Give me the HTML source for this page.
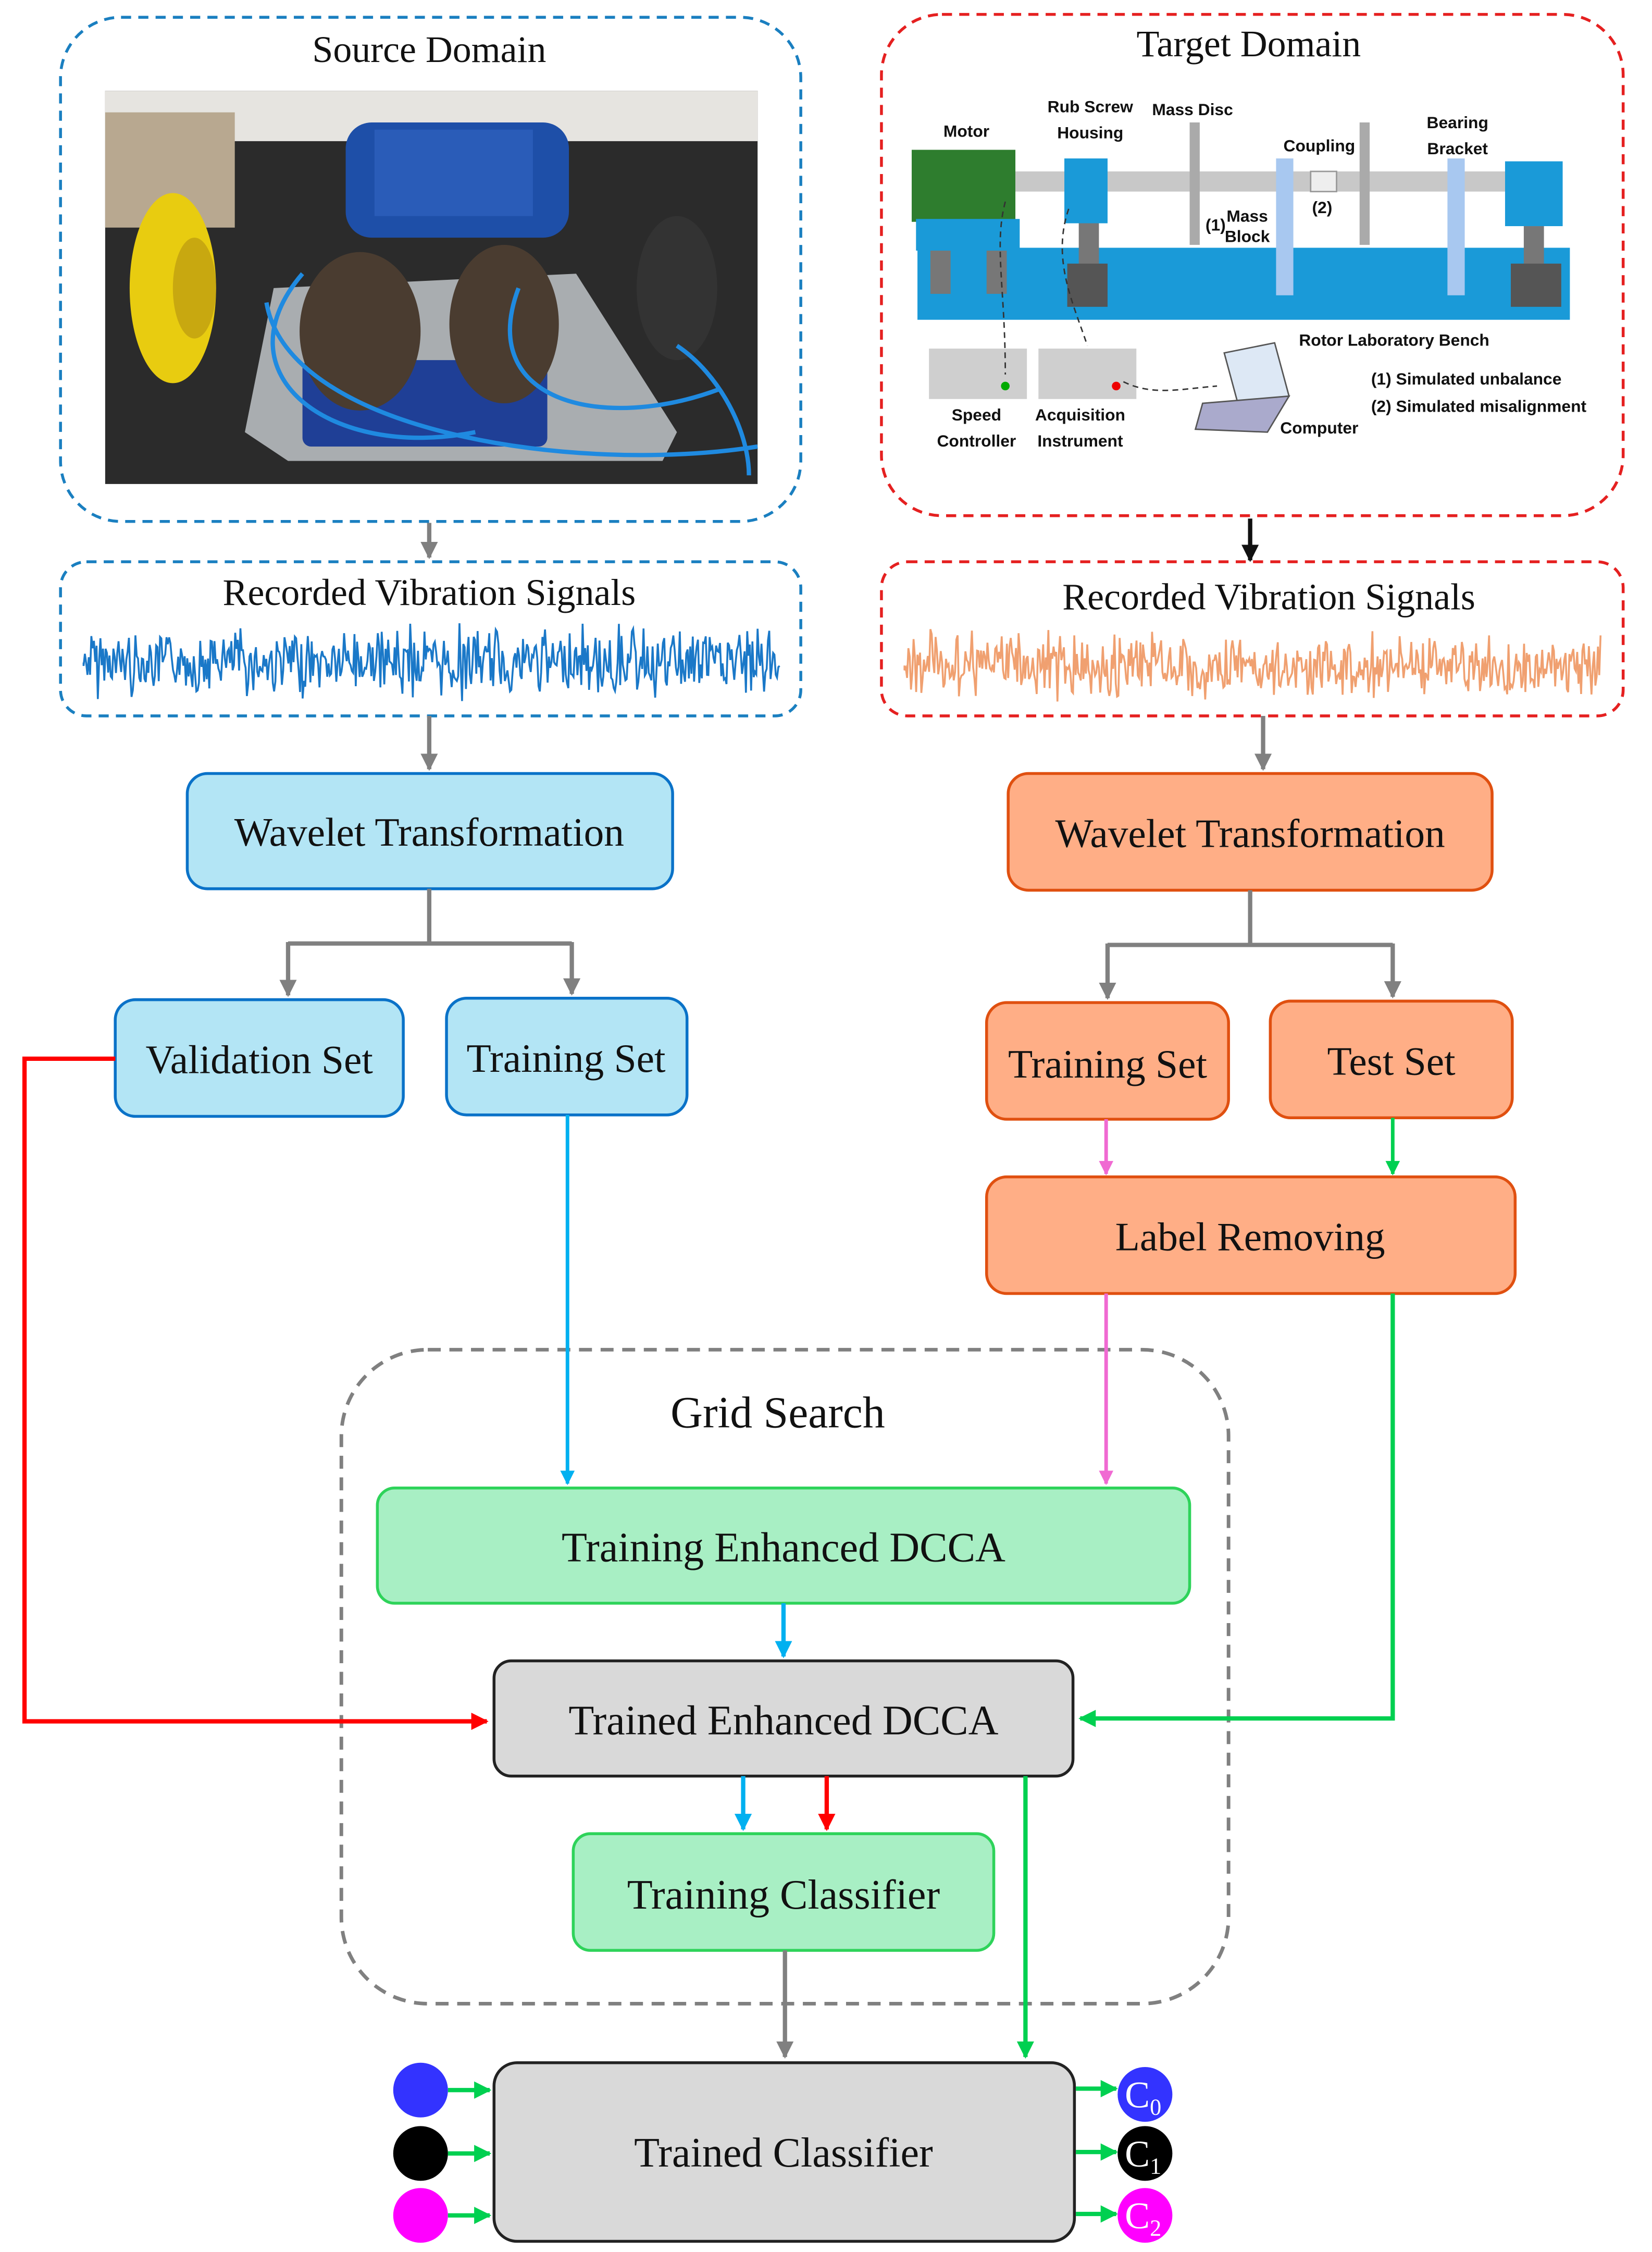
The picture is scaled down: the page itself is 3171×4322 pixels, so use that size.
<!DOCTYPE html>
<html><head><meta charset="utf-8">
<style>
html,body{margin:0;padding:0;background:#fff;}
svg{display:block;}
text{font-family:"Liberation Serif",serif;fill:#111;}
.s{font-family:"Liberation Sans",sans-serif;font-weight:bold;font-size:11.5px;fill:#111;}
</style></head>
<body>
<svg width="3171" height="4322" viewBox="0 0 1147 1563.4" xmlns="http://www.w3.org/2000/svg">
<defs>
<marker id="ag" viewBox="0 0 10 10" refX="9" refY="5" markerWidth="4" markerHeight="5.5" orient="auto" markerUnits="strokeWidth"><path d="M0,0 L10,5 L0,10 z" fill="#808080"/></marker>
<marker id="ak" viewBox="0 0 10 10" refX="9" refY="5" markerWidth="4" markerHeight="5.5" orient="auto" markerUnits="strokeWidth"><path d="M0,0 L10,5 L0,10 z" fill="#111"/></marker>
<marker id="ab" viewBox="0 0 10 10" refX="9" refY="5" markerWidth="4" markerHeight="5.5" orient="auto" markerUnits="strokeWidth"><path d="M0,0 L10,5 L0,10 z" fill="#00b0f0"/></marker>
<marker id="ar" viewBox="0 0 10 10" refX="9" refY="5" markerWidth="4" markerHeight="5.5" orient="auto" markerUnits="strokeWidth"><path d="M0,0 L10,5 L0,10 z" fill="#ff0000"/></marker>
<marker id="ap" viewBox="0 0 10 10" refX="9" refY="5" markerWidth="4" markerHeight="5.5" orient="auto" markerUnits="strokeWidth"><path d="M0,0 L10,5 L0,10 z" fill="#f06ad2"/></marker>
<marker id="agr" viewBox="0 0 10 10" refX="9" refY="5" markerWidth="4" markerHeight="5.5" orient="auto" markerUnits="strokeWidth"><path d="M0,0 L10,5 L0,10 z" fill="#00d050"/></marker>
</defs>

<rect x="42" y="12" width="514" height="350" rx="42" fill="none" stroke="#1a7fc0" stroke-width="2" stroke-dasharray="7,5"/>
<text x="298" y="43" font-size="26" text-anchor="middle">Source Domain</text>
<rect x="73" y="63" width="453" height="273" fill="#2b2b2b"/>
<rect x="73" y="63" width="453" height="35" fill="#e6e4e0"/>
<rect x="73" y="78" width="90" height="80" fill="#b8a890"/>
<polygon points="170,300 190,200 400,190 470,300 460,320 200,320" fill="#a9adb0"/>
<rect x="240" y="85" width="155" height="80" rx="18" fill="#1e4fa8"/>
<rect x="260" y="90" width="110" height="60" fill="#2a5cb8"/>
<rect x="210" y="250" width="170" height="60" rx="6" fill="#1f3f96"/>
<ellipse cx="250" cy="230" rx="42" ry="55" fill="#4a3c30"/>
<ellipse cx="350" cy="225" rx="38" ry="55" fill="#4a3c30"/>
<ellipse cx="120" cy="200" rx="30" ry="66" fill="#e8cc10"/>
<ellipse cx="135" cy="200" rx="15" ry="35" fill="#c8a810"/>
<ellipse cx="470" cy="200" rx="28" ry="50" fill="#333"/>
<path d="M210,190 C150,260 230,320 330,300 M360,200 C330,280 420,300 500,270 M185,210 C200,300 400,330 526,310 M470,240 C500,260 520,300 520,330" fill="none" stroke="#1f8ae0" stroke-width="3"/>

<rect x="612" y="10" width="515" height="348" rx="42" fill="none" stroke="#e52020" stroke-width="2" stroke-dasharray="7,5"/>
<text x="867" y="39" font-size="26" text-anchor="middle">Target Domain</text>
<rect x="637" y="172" width="453" height="50" fill="#1a9ad8"/>
<rect x="633" y="104" width="72" height="50" fill="#2e7d2e"/>
<rect x="636" y="152" width="72" height="22" fill="#1a9ad8"/>
<rect x="646" y="174" width="14" height="30" fill="#777"/><rect x="685" y="174" width="14" height="30" fill="#777"/>
<rect x="705" y="119" width="340" height="14" fill="#c8c8c8"/>
<rect x="739" y="110" width="30" height="45" fill="#1a9ad8"/>
<rect x="749" y="155" width="14" height="50" fill="#777"/><rect x="741" y="183" width="28" height="30" fill="#555"/>
<rect x="826" y="85" width="7" height="85" fill="#aaa"/>
<rect x="886" y="110" width="12" height="95" fill="#a8c8f0"/>
<rect x="910" y="119" width="18" height="14" fill="#eee" stroke="#999"/>
<rect x="944" y="85" width="7" height="85" fill="#aaa"/>
<rect x="1005" y="110" width="12" height="95" fill="#a8c8f0"/>
<rect x="1045" y="112" width="40" height="45" fill="#1a9ad8"/>
<rect x="1058" y="157" width="14" height="45" fill="#777"/><rect x="1049" y="183" width="35" height="30" fill="#555"/>
<rect x="645" y="242" width="68" height="35" fill="#cfcfcf"/><rect x="721" y="242" width="68" height="35" fill="#cfcfcf"/>
<circle cx="698" cy="268" r="3" fill="#0a0"/><circle cx="775" cy="268" r="3" fill="#e00"/>
<polygon points="850,245 885,238 895,275 860,282" fill="#dde8f5" stroke="#555"/>
<polygon points="835,280 895,275 880,300 830,298" fill="#aac" stroke="#555"/>
<path d="M698,140 C690,170 698,200 698,260 M742,145 C730,180 745,210 755,240 M780,265 C800,275 820,270 845,268" fill="none" stroke="#333" stroke-dasharray="4,3"/>
<text class="s" x="671" y="95" text-anchor="middle">Motor</text>
<text class="s" x="757" y="78" text-anchor="middle">Rub Screw</text>
<text class="s" x="757" y="96" text-anchor="middle">Housing</text>
<text class="s" x="828" y="80" text-anchor="middle">Mass Disc</text>
<text class="s" x="916" y="105" text-anchor="middle">Coupling</text>
<text class="s" x="1012" y="89" text-anchor="middle">Bearing</text>
<text class="s" x="1012" y="107" text-anchor="middle">Bracket</text>
<text class="s" x="866" y="154" font-size="9" text-anchor="middle">Mass</text>
<text class="s" x="866" y="168" font-size="9" text-anchor="middle">Block</text>
<text class="s" x="844" y="160" font-size="9" text-anchor="middle">(1)</text>
<text class="s" x="918" y="148" font-size="9" text-anchor="middle">(2)</text>
<text class="s" x="968" y="240" text-anchor="middle">Rotor Laboratory Bench</text>
<text class="s" x="952" y="267">(1)  Simulated unbalance</text>
<text class="s" x="952" y="286">(2)  Simulated misalignment</text>
<text class="s" x="678" y="292" text-anchor="middle">Speed</text>
<text class="s" x="678" y="310" text-anchor="middle">Controller</text>
<text class="s" x="750" y="292" text-anchor="middle">Acquisition</text>
<text class="s" x="750" y="310" text-anchor="middle">Instrument</text>
<text class="s" x="916" y="301" text-anchor="middle">Computer</text>

<line x1="298" y1="363" x2="298" y2="387" stroke="#808080" stroke-width="3" marker-end="url(#ag)"/>
<line x1="868" y1="360" x2="868" y2="389" stroke="#111" stroke-width="3" marker-end="url(#ak)"/>

<rect x="42" y="390" width="514" height="107" rx="18" fill="none" stroke="#1a7fc0" stroke-width="2" stroke-dasharray="7,5"/>
<text x="298" y="420" font-size="26" text-anchor="middle">Recorded Vibration Signals</text>
<rect x="612" y="390" width="515" height="107" rx="18" fill="none" stroke="#e52020" stroke-width="2" stroke-dasharray="7,5"/>
<text x="881" y="423" font-size="26" text-anchor="middle">Recorded Vibration Signals</text>
<path id="w1" fill="none" stroke="#1a78c8" stroke-width="1.3"/>
<path id="w2" fill="none" stroke="#f0a070" stroke-width="1.3"/>

<line x1="298" y1="497" x2="298" y2="534" stroke="#808080" stroke-width="3" marker-end="url(#ag)"/>
<line x1="877" y1="497" x2="877" y2="534" stroke="#808080" stroke-width="3" marker-end="url(#ag)"/>

<rect x="130" y="537" width="337" height="80" rx="14" fill="#b3e5f5" stroke="#0a72c8" stroke-width="2"/>
<text x="298" y="587" font-size="28" text-anchor="middle">Wavelet Transformation</text>
<rect x="700" y="537" width="336" height="81" rx="14" fill="#ffae86" stroke="#e05010" stroke-width="2"/>
<text x="868" y="588" font-size="28" text-anchor="middle">Wavelet Transformation</text>

<path d="M298,617 V655 M200,655 H397" stroke="#808080" stroke-width="3" fill="none"/>
<line x1="200" y1="654" x2="200" y2="691" stroke="#808080" stroke-width="3" marker-end="url(#ag)"/>
<line x1="397" y1="654" x2="397" y2="690" stroke="#808080" stroke-width="3" marker-end="url(#ag)"/>
<path d="M868,618 V656 M769,656 H967" stroke="#808080" stroke-width="3" fill="none"/>
<line x1="769" y1="655" x2="769" y2="693" stroke="#808080" stroke-width="3" marker-end="url(#ag)"/>
<line x1="967" y1="655" x2="967" y2="692" stroke="#808080" stroke-width="3" marker-end="url(#ag)"/>

<rect x="80" y="694" width="200" height="81" rx="14" fill="#b3e5f5" stroke="#0a72c8" stroke-width="2"/>
<text x="180" y="745" font-size="28" text-anchor="middle">Validation Set</text>
<rect x="310" y="693" width="167" height="81" rx="14" fill="#b3e5f5" stroke="#0a72c8" stroke-width="2"/>
<text x="393" y="744" font-size="28" text-anchor="middle">Training Set</text>
<rect x="685" y="696" width="168" height="81" rx="14" fill="#ffae86" stroke="#e05010" stroke-width="2"/>
<text x="769" y="748" font-size="28" text-anchor="middle">Training Set</text>
<rect x="882" y="695" width="168" height="81" rx="14" fill="#ffae86" stroke="#e05010" stroke-width="2"/>
<text x="966" y="746" font-size="28" text-anchor="middle">Test Set</text>

<line x1="768" y1="777" x2="768" y2="815" stroke="#f06ad2" stroke-width="2.5" marker-end="url(#ap)"/>
<line x1="967" y1="776" x2="967" y2="815" stroke="#00d050" stroke-width="2.5" marker-end="url(#agr)"/>

<rect x="685" y="817" width="367" height="81" rx="14" fill="#ffae86" stroke="#e05010" stroke-width="2"/>
<text x="868" y="868" font-size="28" text-anchor="middle">Label Removing</text>

<rect x="237" y="937" width="616" height="454" rx="60" fill="none" stroke="#808080" stroke-width="2.5" stroke-dasharray="9,6"/>
<text x="540" y="991" font-size="31" text-anchor="middle">Grid Search</text>

<line x1="394" y1="774" x2="394" y2="1030" stroke="#00b0f0" stroke-width="2.5" marker-end="url(#ab)"/>
<line x1="768" y1="898" x2="768" y2="1030" stroke="#f06ad2" stroke-width="2.5" marker-end="url(#ap)"/>

<rect x="262" y="1033" width="564" height="80" rx="12" fill="#a8efc4" stroke="#2ed35a" stroke-width="2"/>
<text x="544" y="1084" font-size="29" text-anchor="middle">Training Enhanced DCCA</text>

<line x1="544" y1="1113" x2="544" y2="1150" stroke="#00b0f0" stroke-width="3" marker-end="url(#ab)"/>

<rect x="343" y="1153" width="402" height="80" rx="12" fill="#d9d9d9" stroke="#222" stroke-width="2"/>
<text x="544" y="1204" font-size="29" text-anchor="middle">Trained Enhanced DCCA</text>

<path d="M80,735 H17 V1195 H338" stroke="#ff0000" stroke-width="3" fill="none" marker-end="url(#ar)"/>
<path d="M967,898 V1193 H750" stroke="#00d050" stroke-width="3" fill="none" marker-end="url(#agr)"/>

<line x1="516" y1="1233" x2="516" y2="1270" stroke="#00b0f0" stroke-width="3" marker-end="url(#ab)"/>
<line x1="574" y1="1233" x2="574" y2="1270" stroke="#ff0000" stroke-width="3" marker-end="url(#ar)"/>

<rect x="398" y="1273" width="292" height="81" rx="12" fill="#a8efc4" stroke="#2ed35a" stroke-width="2"/>
<text x="544" y="1325" font-size="29" text-anchor="middle">Training Classifier</text>

<line x1="545" y1="1354" x2="545" y2="1428" stroke="#808080" stroke-width="3" marker-end="url(#ag)"/>
<line x1="712" y1="1233" x2="712" y2="1428" stroke="#00d050" stroke-width="3" marker-end="url(#agr)"/>

<rect x="343" y="1432" width="403" height="124" rx="16" fill="#d9d9d9" stroke="#222" stroke-width="2"/>
<text x="544" y="1504" font-size="29" text-anchor="middle">Trained Classifier</text>

<circle cx="292" cy="1451" r="19" fill="#3333ff"/>
<circle cx="292" cy="1495" r="19" fill="#000"/>
<circle cx="292" cy="1538" r="19" fill="#ff00ff"/>
<line x1="311" y1="1451" x2="340" y2="1451" stroke="#00d050" stroke-width="3" marker-end="url(#agr)"/>
<line x1="311" y1="1495" x2="340" y2="1495" stroke="#00d050" stroke-width="3" marker-end="url(#agr)"/>
<line x1="311" y1="1538" x2="340" y2="1538" stroke="#00d050" stroke-width="3" marker-end="url(#agr)"/>
<line x1="747" y1="1450" x2="775" y2="1450" stroke="#00d050" stroke-width="3" marker-end="url(#agr)"/>
<line x1="747" y1="1494" x2="775" y2="1494" stroke="#00d050" stroke-width="3" marker-end="url(#agr)"/>
<line x1="747" y1="1537" x2="775" y2="1537" stroke="#00d050" stroke-width="3" marker-end="url(#agr)"/>
<circle cx="795" cy="1454" r="19" fill="#3333ff"/>
<circle cx="795" cy="1495" r="19" fill="#000"/>
<circle cx="795" cy="1538" r="19" fill="#ff00ff"/>
<text x="781" y="1463" font-size="26" style="fill:#fff" font-family="Liberation Sans">C<tspan font-size="16" dy="5">0</tspan></text>
<text x="781" y="1504" font-size="26" style="fill:#fff" font-family="Liberation Sans">C<tspan font-size="16" dy="5">1</tspan></text>
<text x="781" y="1547" font-size="26" style="fill:#fff" font-family="Liberation Sans">C<tspan font-size="16" dy="5">2</tspan></text>
</svg>
<script>
function wave(id,x0,x1,yc,amp,seed){var s=seed;function r(){s=(s*9301+49297)%233280;return s/233280;}
var d="M"+x0+","+yc;for(var x=x0;x<=x1;x+=0.9){var a=amp*(0.35+0.65*r());var v=(r()*2-1)*a;d+=" L"+x.toFixed(1)+","+(yc+v).toFixed(1);}
document.getElementById(id).setAttribute("d",d);}
wave("w1",58,542,460,28,7);wave("w2",628,1112,462,26,13);
</script>
</body></html>
